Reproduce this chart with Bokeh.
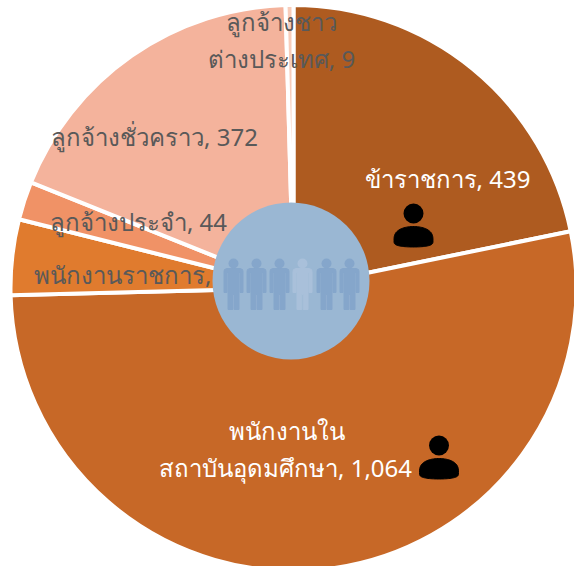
from math import pi
import numpy as np
from bokeh.plotting import figure
from bokeh.models import ColumnDataSource, Range1d
from bokeh.core.properties import value
from bokeh.embed import file_html
from bokeh.resources import INLINE

categories = ["ข้าราชการ", "พนักงานในสถาบันอุดมศึกษา", "พนักงานราชการ", "ลูกจ้างประจำ", "ลูกจ้างชั่วคราว", "ลูกจ้างชาวต่างประเทศ"]
values = [439, 1064, 87, 44, 372, 9]
colors = ["#AE5B20", "#C76827", "#E07B2E", "#F09266", "#F4B39C", "#F8CDBB"]

W, H = 574, 566
CX, CY, R = 293, 287.5, 283
px = lambda x: (np.asarray(x, float) - CX) / R
py = lambda y: (CY - np.asarray(y, float)) / R

p = figure(width=W, height=H, output_backend="svg", toolbar_location=None,
           x_range=Range1d(px(0), px(W)), y_range=Range1d(py(H), py(0)),
           min_border=0, outline_line_color=None, background_fill_color="white",
           border_fill_color=None)
p.axis.visible = False
p.grid.visible = False

v = np.array(values, float)
fr = np.cumsum(v) / v.sum()
start = pi / 2 - 2 * pi * np.concatenate([[0], fr[:-1]])
end = pi / 2 - 2 * pi * fr
src = ColumnDataSource(dict(cat=categories, start=start, end=end, color=colors))
p.wedge(x=0, y=0, radius=1, start_angle="start", end_angle="end", direction="clock",
        fill_color="color", line_color="white", line_width=4, source=src)

def fmt(n):
    return f"{n:,}"

lines = [
    (f"ข้าราชการ, {fmt(values[0])}", 447, 178, "#FFFFFF"),
    ("พนักงานใน", 286, 430, "#FFFFFF"),
    (f"สถาบันอุดมศึกษา, {fmt(values[1])}", 285, 467, "#FFFFFF"),
    (f"พนักงานราชการ, {fmt(values[2])}", 139, 274, "#595959"),
    (f"ลูกจ้างประจำ, {fmt(values[3])}", 138, 221, "#595959"),
    (f"ลูกจ้างชั่วคราว, {fmt(values[4])}", 154, 136, "#595959"),
    ("ลูกจ้างชาว", 281, 21, "#595959"),
    (f"ต่างประเทศ, {fmt(values[5])}", 281, 58, "#595959"),
]
p.text(x=[px(l[1]) for l in lines], y=[py(l[2]) for l in lines], text=[l[0] for l in lines],
       text_color=[l[3] for l in lines], text_font=value("Noto Sans"), text_font_size="24px",
       text_align="center", text_baseline="middle")

# centre disc
p.circle(x=[px(290.5)], y=[py(280.5)], radius=78.5 / R, fill_color="#9AB7D3", line_color=None)

def person_parts(cx, t):
    xs = [cx-9, cx-6.5, cx+6.5, cx+9, cx+9.5, cx+9.5, cx+6.5, cx+6.5, cx+5.5, cx+5.5, cx+0.7, cx+0.7, cx-0.7, cx-0.7, cx-5.5, cx-5.5, cx-6.5, cx-6.5, cx-9.5, cx-9.5]
    ys = [t+11, t+10, t+10, t+11, t+13, t+34, t+34, t+14, t+14, t+51, t+51, t+36, t+36, t+51, t+51, t+14, t+14, t+34, t+34, t+13]
    return xs, ys

centers = [233, 256, 279, 302, 326, 349]
for i, c in enumerate(centers):
    col = "#A9C0DA" if i == 3 else "#85A6CB"
    xs, ys = person_parts(c, 258)
    p.patch(px(xs), py(ys), fill_color=col, line_color=col, line_join="round", line_width=1)
    p.circle(x=[px(c)], y=[py(263)], radius=5 / R, fill_color=col, line_color=None)

def user_icon(cx, head_y):
    t = np.linspace(0, pi, 40)
    base = head_y + 27
    bx = cx + 19.5 * np.cos(t)
    top_y = base - 14 * np.sin(t) ** 0.7
    bot_y = base + 6.5 * np.sin(t) ** 0.5
    xs = np.concatenate([bx, bx[::-1]])
    ys = np.concatenate([top_y, bot_y[::-1]])
    p.patch(px(xs), py(ys), fill_color="black", line_color="black", line_width=1)
    p.circle(x=[px(cx)], y=[py(head_y)], radius=10 / R, fill_color="black", line_color=None)

user_icon(413, 213)
user_icon(438.5, 445)

open("out.html", "w").write(file_html(p, INLINE))
